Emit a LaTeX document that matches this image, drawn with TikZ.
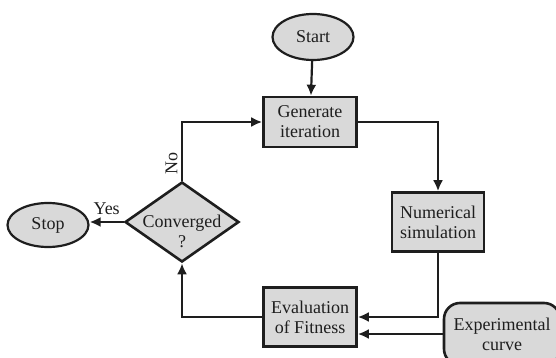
\documentclass[tikz,border=0pt]{standalone}
\usepackage{fontspec}
\setmainfont{Liberation Serif}
\usetikzlibrary{shapes.geometric,arrows.meta}
\definecolor{boxgray}{RGB}{217,217,217}
\definecolor{linegray}{RGB}{30,30,30}
\tikzset{
	txt/.style={font=\fontsize{18}{20}\selectfont,align=center,text=linegray},
	term/.style={txt,ellipse,draw=linegray,fill=boxgray,line width=2.2pt,inner sep=0pt,minimum width=81pt,minimum height=46pt},
	proc/.style={txt,rectangle,draw=linegray,fill=boxgray,line width=2.6pt,inner sep=0pt,minimum width=93pt,minimum height=59pt},
	flow/.style={draw=linegray,line width=2.2pt,->,>={Latex[length=11pt,width=10pt]}},
}
\begin{document}
\begin{tikzpicture}[x=1pt,y=-1pt]
	\useasboundingbox (0,0) rectangle (556,358);
	% terminals
	\node[term] (start) at (313,37) {Start};
	\node[term,minimum height=44pt] (stop) at (48,225) {Stop};
	% processes
	\node[proc,minimum height=50pt] (gen) at (310,122) {Generate\\iteration};
	\node[proc,minimum width=92pt] (num) at (438,222) {Numerical\\simulation};
	\node[proc] (eval) at (310,317) {Evaluation\\of Fitness};
	\node[proc,rounded corners=16pt,minimum width=116pt,minimum height=62pt] (exp) at (502,334) {Experimental\\curve};
	% decision
	\node[diamond,draw=linegray,fill=boxgray,line width=2.6pt,inner sep=0pt,minimum width=114pt,minimum height=80pt] (conv) at (182,222) {};
	\node[txt] (convtxt) at ([yshift=-9pt]conv.center) {Converged\\?};
	% connectors
	\draw[flow] (start) -- (gen);
	\draw[flow] (gen.east) -| (num.north);
	\draw[flow] (num.south) |- (eval.east);
	\draw[flow] (exp.west) -- (exp.west -| eval.east);
	\draw[flow] (eval.west) -| (conv.south);
	\draw[flow] (conv.north) |- (gen.west) node[txt,pos=0.15,sloped,above] {No};
	\draw[flow] (conv.west) -- (conv.west -| stop.east) node[txt,midway,above=3pt] {Yes};
\end{tikzpicture}
\end{document}
